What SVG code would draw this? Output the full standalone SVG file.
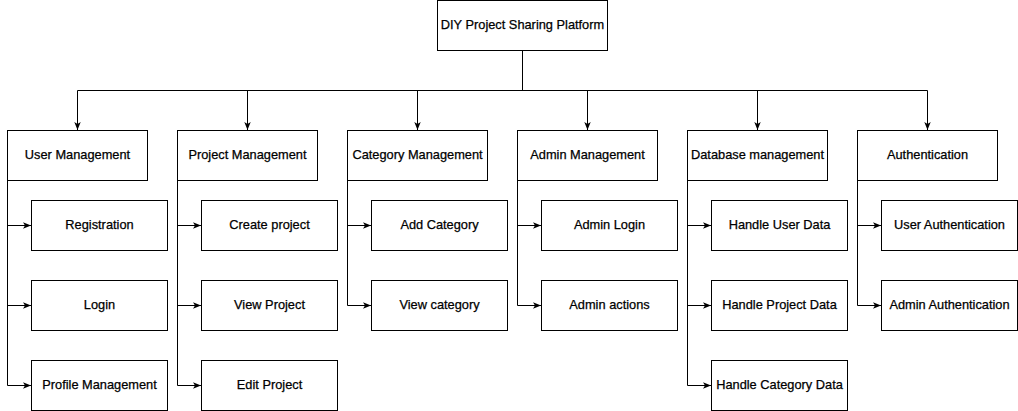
<svg xmlns="http://www.w3.org/2000/svg" width="1018" height="411" viewBox="0 0 1018 411">
<style>
.box{fill:#fff;stroke:#000;stroke-width:1}
.t{font-family:"Liberation Sans",Arial,sans-serif;font-size:12.8px;fill:#000;stroke:#000;stroke-width:0.25;text-anchor:middle;dominant-baseline:central}
.c{fill:none;stroke:#000;stroke-width:1}
</style>
<defs>
<marker id="a" viewBox="0 0 10 10" refX="10" refY="5" markerWidth="8" markerHeight="8" markerUnits="userSpaceOnUse" orient="auto">
<path d="M0,1 L10,5 L0,9 L2.5,5 Z" fill="#000"/>
</marker>
</defs>
<rect width="1018" height="411" fill="#fff"/>
<g id="connectors">
<path class="c" d="M522.5,50.5 V90.5 M77.5,90.5 H927.5"/>
<path class="c" marker-end="url(#a)" d="M77.5,90.5 V130"/>
<path class="c" marker-end="url(#a)" d="M247.5,90.5 V130"/>
<path class="c" marker-end="url(#a)" d="M417.5,90.5 V130"/>
<path class="c" marker-end="url(#a)" d="M587.5,90.5 V130"/>
<path class="c" marker-end="url(#a)" d="M757.5,90.5 V130"/>
<path class="c" marker-end="url(#a)" d="M927.5,90.5 V130"/>
<path class="c" marker-end="url(#a)" d="M7.5,180.5 V225.5 H31"/>
<path class="c" marker-end="url(#a)" d="M7.5,180.5 V305.5 H31"/>
<path class="c" marker-end="url(#a)" d="M7.5,180.5 V385.5 H31"/>
<path class="c" marker-end="url(#a)" d="M177.5,180.5 V225.5 H201"/>
<path class="c" marker-end="url(#a)" d="M177.5,180.5 V305.5 H201"/>
<path class="c" marker-end="url(#a)" d="M177.5,180.5 V385.5 H201"/>
<path class="c" marker-end="url(#a)" d="M347.5,180.5 V225.5 H371"/>
<path class="c" marker-end="url(#a)" d="M347.5,180.5 V305.5 H371"/>
<path class="c" marker-end="url(#a)" d="M517.5,180.5 V225.5 H541"/>
<path class="c" marker-end="url(#a)" d="M517.5,180.5 V305.5 H541"/>
<path class="c" marker-end="url(#a)" d="M687.5,180.5 V225.5 H711"/>
<path class="c" marker-end="url(#a)" d="M687.5,180.5 V305.5 H711"/>
<path class="c" marker-end="url(#a)" d="M687.5,180.5 V385.5 H711"/>
<path class="c" marker-end="url(#a)" d="M857.5,180.5 V225.5 H881"/>
<path class="c" marker-end="url(#a)" d="M857.5,180.5 V305.5 H881"/>
</g>
<g id="root"><rect class="box" x="437.5" y="0.5" width="170" height="50"/><text class="t" x="522.5" y="24.5">DIY Project Sharing Platform</text></g>

<g id="user-management"><rect class="box" x="7.5" y="130.5" width="140" height="50"/><text class="t" x="77.5" y="154.5">User Management</text></g>
<g id="registration"><rect class="box" x="31.5" y="200.5" width="136" height="50"/><text class="t" x="99.5" y="224.5">Registration</text></g>
<g id="login"><rect class="box" x="31.5" y="280.5" width="136" height="50"/><text class="t" x="99.5" y="304.5">Login</text></g>
<g id="profile-management"><rect class="box" x="31.5" y="360.5" width="136" height="50"/><text class="t" x="99.5" y="384.5">Profile Management</text></g>

<g id="project-management"><rect class="box" x="177.5" y="130.5" width="140" height="50"/><text class="t" x="247.5" y="154.5">Project Management</text></g>
<g id="create-project"><rect class="box" x="201.5" y="200.5" width="136" height="50"/><text class="t" x="269.5" y="224.5">Create project</text></g>
<g id="view-project"><rect class="box" x="201.5" y="280.5" width="136" height="50"/><text class="t" x="269.5" y="304.5">View Project</text></g>
<g id="edit-project"><rect class="box" x="201.5" y="360.5" width="136" height="50"/><text class="t" x="269.5" y="384.5">Edit Project</text></g>

<g id="category-management"><rect class="box" x="347.5" y="130.5" width="140" height="50"/><text class="t" x="417.5" y="154.5">Category Management</text></g>
<g id="add-category"><rect class="box" x="371.5" y="200.5" width="136" height="50"/><text class="t" x="439.5" y="224.5">Add Category</text></g>
<g id="view-category"><rect class="box" x="371.5" y="280.5" width="136" height="50"/><text class="t" x="439.5" y="304.5">View category</text></g>

<g id="admin-management"><rect class="box" x="517.5" y="130.5" width="140" height="50"/><text class="t" x="587.5" y="154.5">Admin Management</text></g>
<g id="admin-login"><rect class="box" x="541.5" y="200.5" width="136" height="50"/><text class="t" x="609.5" y="224.5">Admin Login</text></g>
<g id="admin-actions"><rect class="box" x="541.5" y="280.5" width="136" height="50"/><text class="t" x="609.5" y="304.5">Admin actions</text></g>

<g id="database-management"><rect class="box" x="687.5" y="130.5" width="140" height="50"/><text class="t" x="757.5" y="154.5">Database management</text></g>
<g id="handle-user-data"><rect class="box" x="711.5" y="200.5" width="136" height="50"/><text class="t" x="779.5" y="224.5">Handle User Data</text></g>
<g id="handle-project-data"><rect class="box" x="711.5" y="280.5" width="136" height="50"/><text class="t" x="779.5" y="304.5">Handle Project Data</text></g>
<g id="handle-category-data"><rect class="box" x="711.5" y="360.5" width="136" height="50"/><text class="t" x="779.5" y="384.5">Handle Category Data</text></g>

<g id="authentication"><rect class="box" x="857.5" y="130.5" width="140" height="50"/><text class="t" x="927.5" y="154.5">Authentication</text></g>
<g id="user-authentication"><rect class="box" x="881.5" y="200.5" width="136" height="50"/><text class="t" x="949.5" y="224.5">User Authentication</text></g>
<g id="admin-authentication"><rect class="box" x="881.5" y="280.5" width="136" height="50"/><text class="t" x="949.5" y="304.5">Admin Authentication</text></g>
</svg>
